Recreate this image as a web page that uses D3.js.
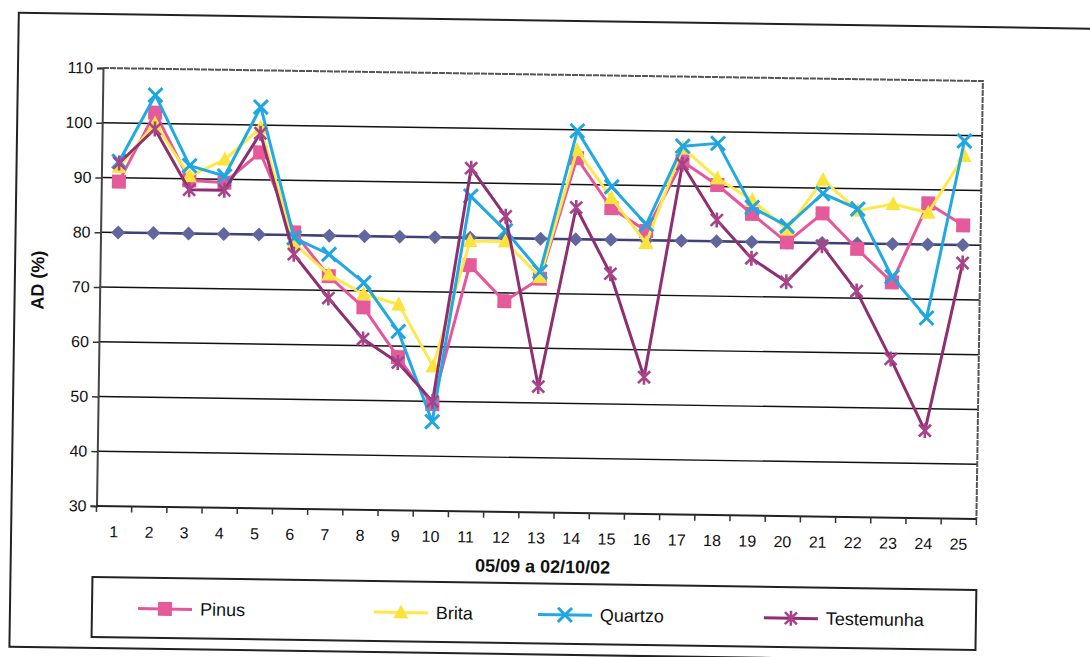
<!DOCTYPE html>
<html>
<head>
<meta charset="utf-8">
<script src="https://cdn.jsdelivr.net/npm/d3@7"></script>
<style>
  body { margin: 0; background: #ffffff; }
  svg { display: block; font-family: "Liberation Sans", Arial, sans-serif; }
</style>
</head>
<body>
<div id="chart"></div>
<script>
// categories (days 05/09 a 02/10/02)
var days = d3.range(1, 26);
var yTicks = [30, 40, 50, 60, 70, 80, 90, 100, 110];

// series values
var referencia = [80,80,80,80,80,80,80,80,80,80,80,80,80,80,80,80,80,80,80,80,80,80,80,80,80];
var pinus      = [89.3,102,89.7,89.4,95,80.5,72.6,67,58,49.5,75,68.5,72.7,94.8,85.8,81.7,94.5,90.3,85.1,80,85.4,79,73,87.5,83.6];
var brita      = [92,100,90.5,93.6,99.5,78.5,72.9,69.4,67.6,56.4,79.4,79.4,73,96.3,87.6,79.5,97,91.5,87.6,82.4,91.5,86,87.3,85.8,96.3];
var quartzo    = [93,105.2,92.4,90.6,103.3,79.5,76.6,71.5,62.7,46.3,87.6,81.4,74,99.8,89.7,82.9,97.3,97.9,86.3,83,89,86.3,74,66.6,99];
var testemunha = [92.7,99,88,88,98.5,76.5,68.6,61.2,57,50,92.7,84,53,85.8,73.8,55,94,83.9,77,72.8,79.5,71.3,59,46,76.7];

var width = 1090, height = 657;
var ox = 103, oy = 68;          // top-left of plot area
var pw = 880, ph = 438;         // plot size
var tilt = 0.85;                // the scan is slightly rotated

var svg = d3.select('#chart').append('svg')
  .attr('width', width)
  .attr('height', height);

var page = svg.append('g')
  .attr('transform', 'rotate(' + tilt + ',' + ox + ',' + oy + ')');

// outer chart frame (right side runs off the page)
page.append('rect')
  .attr('x', 18).attr('y', 14)
  .attr('width', 1200).attr('height', 634)
  .attr('fill', 'none').attr('stroke', '#222').attr('stroke-width', 2);

var g = page.append('g').attr('transform', 'translate(' + ox + ',' + oy + ')');

var x = d3.scaleBand().domain(days).range([0, pw]);
var y = d3.scaleLinear().domain([30, 110]).range([ph, 0]);
var cx = function (i) { return x(days[i]) + x.bandwidth() / 2; };

// gridlines
g.selectAll('.grid').data(yTicks.filter(function (t) { return t > 30 && t < 110; }))
  .enter().append('line')
  .attr('x1', 0).attr('x2', pw)
  .attr('y1', function (d) { return y(d); }).attr('y2', function (d) { return y(d); })
  .attr('stroke', '#111').attr('stroke-width', 1.4);

// plot border top/right
g.append('path')
  .attr('d', 'M0,0H' + pw + 'V' + ph)
  .attr('fill', 'none').attr('stroke', '#555').attr('stroke-width', 2)
  .attr('stroke-dasharray', '6,1');

// y axis
var yAxis = g.append('g').call(d3.axisLeft(y).tickValues(yTicks).tickSize(6).tickPadding(4));
yAxis.select('.domain').attr('stroke', '#444').attr('stroke-width', 2);
yAxis.selectAll('.tick line').attr('stroke', '#333').attr('stroke-width', 1.5);
yAxis.selectAll('text').attr('font-size', 16).attr('fill', '#111')
  .attr('font-family', '"Liberation Sans", Arial, sans-serif');

// x axis: ticks between categories
var xAxis = g.append('g').attr('transform', 'translate(0,' + ph + ')');
xAxis.append('line').attr('x1', 0).attr('x2', pw).attr('stroke', '#222').attr('stroke-width', 2);
xAxis.selectAll('.xt').data(d3.range(0, 26)).enter().append('line')
  .attr('x1', function (i) { return i * x.step(); })
  .attr('x2', function (i) { return i * x.step(); })
  .attr('y1', 0).attr('y2', 6)
  .attr('stroke', '#333').attr('stroke-width', 1.5);
xAxis.selectAll('.xl').data(days).enter().append('text')
  .attr('x', function (d) { return x(d) + x.bandwidth() / 2; })
  .attr('y', 31)
  .attr('text-anchor', 'middle')
  .attr('font-size', 16).attr('fill', '#111')
  .text(function (d) { return d; });

// axis titles
g.append('text')
  .attr('x', pw / 2 + 7).attr('y', ph + 60)
  .attr('text-anchor', 'middle')
  .attr('font-size', 18).attr('font-weight', 'bold').attr('fill', '#111')
  .text('05/09 a 02/10/02');

g.append('text')
  .attr('transform', 'translate(' + (-56) + ',' + (ph / 2 - 6) + ') rotate(-90)')
  .attr('text-anchor', 'middle')
  .attr('font-size', 18).attr('font-weight', 'bold').attr('fill', '#111')
  .text('AD (%)');

// marker drawing helpers
function marker(sel, shape, color) {
  if (shape === 'diamond') {
    sel.append('path').attr('d', 'M0,-7L7,0L0,7L-7,0Z').attr('fill', color);
  } else if (shape === 'square') {
    sel.append('rect').attr('x', -7).attr('y', -7).attr('width', 14).attr('height', 14).attr('fill', color);
  } else if (shape === 'triangle') {
    sel.append('path').attr('d', 'M0,-8L7.5,6L-7.5,6Z').attr('fill', color);
  } else if (shape === 'x') {
    sel.append('path').attr('d', 'M-7,-7L7,7M-7,7L7,-7')
      .attr('stroke', color).attr('stroke-width', 3).attr('fill', 'none');
  } else if (shape === 'star') {
    sel.append('path').attr('d', 'M-6,-6L6,6M-6,6L6,-6M0,-7.5V7.5')
      .attr('stroke', color).attr('stroke-width', 2.6).attr('fill', 'none');
  }
}

var series = [
  { name: null, values: referencia, line: '#3e4276', mark: '#62669e', shape: 'diamond', w: 2.5 },
  { name: 'Pinus', values: pinus, line: '#e8559b', mark: '#e45a9a', shape: 'square', w: 3 },
  { name: 'Brita', values: brita, line: '#ffe84a', mark: '#fbe33c', shape: 'triangle', w: 3 },
  { name: 'Quartzo', values: quartzo, line: '#22a9e2', mark: '#1fa6e0', shape: 'x', w: 3 },
  { name: 'Testemunha', values: testemunha, line: '#8e2f72', mark: '#a8438a', shape: 'star', w: 3 }
];

var line = d3.line()
  .x(function (d, i) { return cx(i); })
  .y(function (d) { return y(d); });

series.forEach(function (s) {
  var sg = g.append('g');
  sg.append('path').attr('d', line(s.values))
    .attr('fill', 'none').attr('stroke', s.line).attr('stroke-width', s.w)
    .attr('stroke-linejoin', 'round');
  sg.selectAll('.m').data(s.values).enter().append('g')
    .attr('transform', function (d, i) { return 'translate(' + cx(i) + ',' + y(d) + ')'; })
    .each(function () { marker(d3.select(this), s.shape, s.mark); });
});

// legend
var leg = g.append('g').attr('transform', 'translate(' + (-3) + ',' + 509 + ')');
leg.append('rect').attr('width', 884).attr('height', 60)
  .attr('fill', '#fff').attr('stroke', '#222').attr('stroke-width', 2);
var legX = [46, 282, 446, 672];
series.slice(1).forEach(function (s, i) {
  var it = leg.append('g').attr('transform', 'translate(' + legX[i] + ',31)');
  it.append('line').attr('x1', 0).attr('x2', 54)
    .attr('stroke', s.line).attr('stroke-width', 3);
  marker(it.append('g').attr('transform', 'translate(27,0)'), s.shape, s.mark);
  it.append('text').attr('x', 62).attr('y', 6)
    .attr('font-size', 18).attr('fill', '#111')
    .text(s.name);
});
</script>
</body>
</html>
